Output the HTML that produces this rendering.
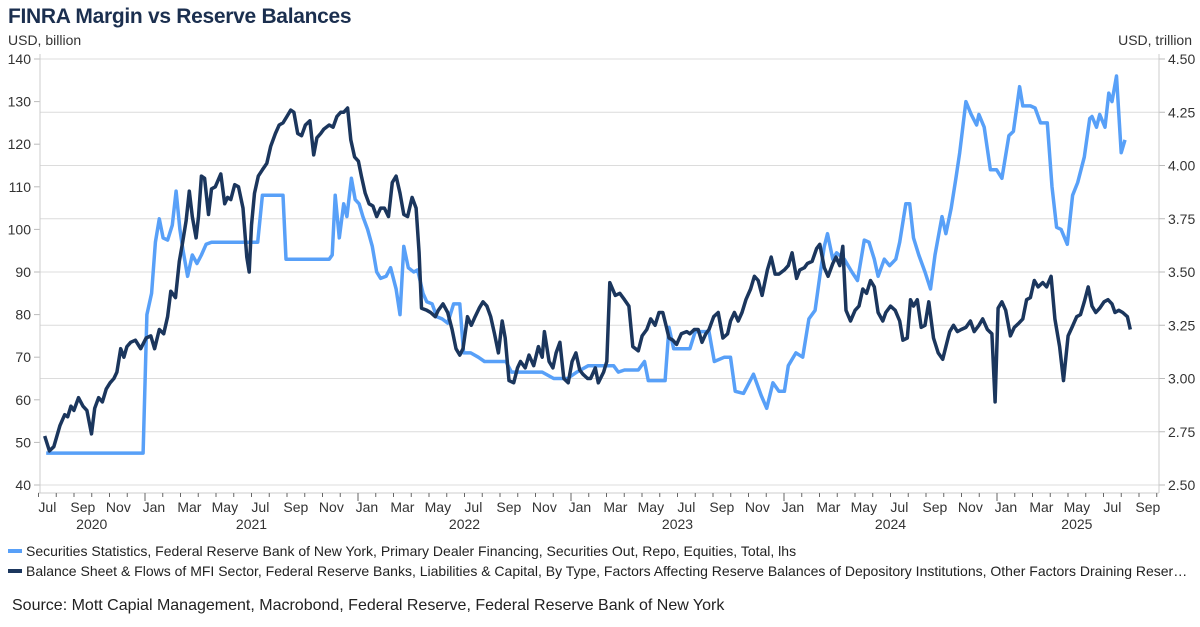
<!DOCTYPE html>
<html><head><meta charset="utf-8"><style>
body{margin:0;background:#fff;font-family:"Liberation Sans",Arial,sans-serif;}
#wrap{position:relative;width:1200px;height:627px;overflow:hidden;}
.title{position:absolute;left:8px;top:5px;font-size:21px;font-weight:bold;color:#1b2f4f;letter-spacing:-0.3px}
.leg{position:absolute;left:8px;width:1182px;font-size:14px;color:#222;white-space:nowrap;overflow:hidden;text-overflow:ellipsis}
.sw{display:inline-block;width:14px;height:4px;vertical-align:middle;margin-right:4px;position:relative;top:-1px}
.src{position:absolute;left:12px;top:597px;font-size:16px;color:#222}
</style></head><body>
<div id="wrap">
<div class="title">FINRA Margin vs Reserve Balances</div>
<svg id="svg" width="1200" height="627" style="position:absolute;left:0;top:0"></svg>
<div class="leg" style="top:543px"><span class="sw" style="background:#58a0f8"></span>Securities Statistics, Federal Reserve Bank of New York, Primary Dealer Financing, Securities Out, Repo, Equities, Total, lhs</div>
<div class="leg" style="top:563px"><span class="sw" style="background:#1b365d"></span>Balance Sheet &amp; Flows of MFI Sector, Federal Reserve Banks, Liabilities &amp; Capital, By Type, Factors Affecting Reserve Balances of Depository Institutions, Other Factors Draining Reserve Balances, Total, rhs</div>
<div class="src">Source: Mott Capial Management, Macrobond, Federal Reserve, Federal Reserve Bank of New York</div>
</div>
<script>
const leftTicks=[140,130,120,110,100,90,80,70,60,50,40];
const rightTicks=["4.50","4.25","4.00","3.75","3.50","3.25","3.00","2.75","2.50"];
const monthLabels=["Jul","Sep","Nov","Jan","Mar","May","Jul","Sep","Nov","Jan","Mar","May","Jul","Sep","Nov","Jan","Mar","May","Jul","Sep","Nov","Jan","Mar","May","Jul","Sep","Nov","Jan","Mar","May","Jul","Sep"];
const yearLabels=["2020","2021","2022","2023","2024","2025"];
const marginDates=[2020.536,2020.991,2021.009,2021.031,2021.049,2021.067,2021.085,2021.106,2021.128,2021.146,2021.164,2021.179,2021.200,2021.222,2021.244,2021.265,2021.287,2021.312,2021.529,2021.551,2021.648,2021.662,2021.865,2021.879,2021.893,2021.912,2021.933,2021.948,2021.969,2021.987,2022.005,2022.023,2022.045,2022.067,2022.088,2022.106,2022.132,2022.153,2022.179,2022.197,2022.215,2022.236,2022.262,2022.280,2022.305,2022.323,2022.348,2022.370,2022.395,2022.421,2022.449,2022.478,2022.496,2022.529,2022.565,2022.594,2022.695,2022.720,2022.865,2022.919,2022.984,2023.027,2023.081,2023.200,2023.222,2023.251,2023.316,2023.345,2023.363,2023.442,2023.460,2023.482,2023.558,2023.583,2023.648,2023.673,2023.720,2023.749,2023.771,2023.810,2023.857,2023.893,2023.919,2023.948,2023.976,2024.002,2024.020,2024.056,2024.088,2024.117,2024.146,2024.171,2024.189,2024.204,2024.229,2024.247,2024.283,2024.319,2024.345,2024.377,2024.399,2024.424,2024.442,2024.471,2024.496,2024.525,2024.543,2024.572,2024.590,2024.608,2024.633,2024.662,2024.688,2024.709,2024.742,2024.760,2024.785,2024.807,2024.825,2024.854,2024.879,2024.904,2024.915,2024.940,2024.969,2024.998,2025.023,2025.056,2025.077,2025.106,2025.121,2025.157,2025.179,2025.204,2025.236,2025.258,2025.280,2025.301,2025.330,2025.355,2025.379,2025.410,2025.435,2025.446,2025.467,2025.482,2025.507,2025.525,2025.540,2025.561,2025.583,2025.601];
const marginValues=[47.5,47.5,80,85,97,102.5,98,97.5,101,109,100,95,89,94,92,94,96.5,97,97,108,108,93,93,94,108,98,106,103,112,107,106,103,100,96,90,88.5,89,91,86,80,96,91,90,90.5,85,83,82.5,79.5,79,78,82.5,82.5,71,71,70,69,69,66.5,66.5,65,65,66.5,68,68,66.5,67,67,69,64.5,64.5,77,72,72,76,76,69,70,70,62,61.5,66,61,58,64,62,62,68,71,70,79,81,90,96,99,93,94.5,93,90,88,97.5,97,93,89,93,91.5,93,97,106,106,98,94,90,86,94,103,99,105,112,118,130,127,124.5,127,124,114,114,112,122,123,133.5,129,129,128.5,125,125,110,100.5,100,96.5,108,111,117,126,126.5,124,127,124,132,130,136,118,121];
const reserveDates=[2020.529,2020.551,2020.572,2020.601,2020.623,2020.637,2020.652,2020.666,2020.688,2020.709,2020.727,2020.749,2020.764,2020.782,2020.800,2020.818,2020.836,2020.854,2020.868,2020.886,2020.901,2020.915,2020.933,2020.955,2020.980,2021.005,2021.027,2021.045,2021.067,2021.088,2021.106,2021.121,2021.143,2021.161,2021.175,2021.193,2021.208,2021.222,2021.240,2021.251,2021.265,2021.280,2021.298,2021.312,2021.330,2021.356,2021.374,2021.388,2021.403,2021.421,2021.439,2021.460,2021.478,2021.489,2021.500,2021.514,2021.532,2021.551,2021.572,2021.590,2021.612,2021.630,2021.648,2021.666,2021.684,2021.699,2021.717,2021.735,2021.753,2021.774,2021.792,2021.807,2021.825,2021.839,2021.865,2021.883,2021.901,2021.919,2021.933,2021.951,2021.966,2021.984,2022.002,2022.016,2022.034,2022.052,2022.070,2022.088,2022.106,2022.124,2022.143,2022.161,2022.179,2022.197,2022.215,2022.233,2022.254,2022.273,2022.287,2022.298,2022.323,2022.341,2022.363,2022.377,2022.399,2022.421,2022.442,2022.460,2022.478,2022.493,2022.514,2022.532,2022.550,2022.569,2022.587,2022.605,2022.623,2022.641,2022.659,2022.677,2022.691,2022.709,2022.731,2022.749,2022.763,2022.785,2022.803,2022.825,2022.847,2022.865,2022.875,2022.897,2022.915,2022.930,2022.948,2022.966,2022.987,2023.005,2023.023,2023.041,2023.056,2023.078,2023.092,2023.114,2023.128,2023.153,2023.168,2023.182,2023.208,2023.229,2023.251,2023.272,2023.290,2023.316,2023.334,2023.356,2023.374,2023.395,2023.413,2023.431,2023.446,2023.460,2023.478,2023.496,2023.518,2023.543,2023.558,2023.579,2023.597,2023.615,2023.633,2023.648,2023.670,2023.691,2023.713,2023.735,2023.749,2023.767,2023.785,2023.803,2023.821,2023.843,2023.861,2023.879,2023.897,2023.922,2023.940,2023.958,2023.976,2024.002,2024.020,2024.038,2024.059,2024.074,2024.096,2024.110,2024.132,2024.153,2024.168,2024.189,2024.207,2024.229,2024.244,2024.262,2024.276,2024.291,2024.312,2024.334,2024.352,2024.370,2024.388,2024.406,2024.424,2024.442,2024.464,2024.478,2024.500,2024.522,2024.543,2024.558,2024.579,2024.594,2024.608,2024.626,2024.644,2024.662,2024.680,2024.702,2024.724,2024.745,2024.760,2024.778,2024.796,2024.814,2024.832,2024.854,2024.875,2024.893,2024.915,2024.933,2024.955,2024.976,2024.991,2025.005,2025.023,2025.041,2025.063,2025.081,2025.103,2025.121,2025.139,2025.157,2025.175,2025.193,2025.215,2025.233,2025.254,2025.272,2025.294,2025.312,2025.334,2025.352,2025.374,2025.392,2025.410,2025.428,2025.446,2025.464,2025.482,2025.503,2025.521,2025.540,2025.554,2025.572,2025.590,2025.612,2025.626];
const reserveValues=[2.73,2.66,2.68,2.78,2.83,2.82,2.87,2.85,2.91,2.87,2.85,2.74,2.86,2.91,2.89,2.95,2.98,3.00,3.03,3.14,3.10,3.15,3.17,3.18,3.14,3.19,3.20,3.14,3.23,3.21,3.29,3.41,3.38,3.55,3.63,3.74,3.88,3.76,3.66,3.76,3.95,3.94,3.77,3.89,3.90,3.96,3.82,3.85,3.84,3.91,3.90,3.80,3.57,3.50,3.72,3.87,3.95,3.98,4.01,4.09,4.15,4.19,4.20,4.23,4.26,4.25,4.15,4.14,4.19,4.21,4.05,4.13,4.15,4.17,4.19,4.18,4.23,4.25,4.25,4.27,4.12,4.04,4.02,3.95,3.87,3.82,3.81,3.76,3.80,3.80,3.76,3.92,3.95,3.87,3.77,3.76,3.85,3.80,3.59,3.33,3.32,3.31,3.29,3.32,3.35,3.31,3.23,3.14,3.11,3.14,3.29,3.25,3.29,3.33,3.36,3.34,3.29,3.21,3.12,3.27,3.19,2.99,2.98,3.05,3.08,3.05,3.11,3.06,3.15,3.10,3.22,3.08,3.05,3.12,3.17,3.00,2.98,3.08,3.12,3.04,3.02,3.00,3.00,3.05,2.98,3.03,3.08,3.45,3.39,3.40,3.37,3.34,3.15,3.13,3.20,3.23,3.28,3.25,3.31,3.31,3.25,3.19,3.18,3.16,3.21,3.22,3.21,3.23,3.23,3.17,3.21,3.23,3.29,3.31,3.19,3.21,3.27,3.31,3.27,3.31,3.37,3.42,3.48,3.46,3.39,3.51,3.57,3.49,3.49,3.51,3.53,3.59,3.47,3.51,3.52,3.54,3.55,3.61,3.63,3.52,3.48,3.54,3.57,3.53,3.62,3.32,3.27,3.32,3.34,3.42,3.40,3.46,3.43,3.31,3.27,3.31,3.34,3.32,3.27,3.18,3.19,3.37,3.34,3.37,3.24,3.25,3.36,3.19,3.12,3.09,3.15,3.22,3.25,3.22,3.23,3.24,3.27,3.22,3.25,3.28,3.23,3.21,2.89,3.33,3.36,3.32,3.20,3.24,3.26,3.28,3.37,3.38,3.46,3.43,3.45,3.43,3.48,3.28,3.15,2.99,3.20,3.24,3.29,3.30,3.36,3.43,3.34,3.31,3.33,3.36,3.37,3.35,3.31,3.32,3.31,3.29,3.23];

const NS="http://www.w3.org/2000/svg";
const svg=document.getElementById('svg');
const X0=38.5,PX_YR=213,YT=59,YB=485,AXL=40,AXR=1159;
const xS=d=>X0+(d-2020.5)*PX_YR;
const yL=v=>YT+(140-v)*(YB-YT)/100;
const yR=v=>YT+(4.5-v)*(YB-YT)/2;
function mk(t,a){const e=document.createElementNS(NS,t);for(const k in a)e.setAttribute(k,a[k]);svg.appendChild(e);return e;}
rightTicks.forEach(t=>{const v=parseFloat(t),y=yR(v);
 const g=mk('line',{x1:AXL,x2:AXR,y1:y,y2:y,stroke:'#dcdcdc','stroke-width':1});
 
 
 mk('line',{x1:AXR,x2:AXR+6,y1:y,y2:y,stroke:'#bbb'});
 const tx=mk('text',{x:AXR+9,y:y+5,'font-size':14,fill:'#333','font-family':'Liberation Sans, sans-serif'});tx.textContent=t;
 
 
});
leftTicks.forEach(v=>{const y=yL(v);
 mk('line',{x1:AXL-6,x2:AXL,y1:y,y2:y,stroke:'#bbb'});
 const tx=mk('text',{x:AXL-9,y:y+5,'font-size':14,fill:'#333','text-anchor':'end','font-family':'Liberation Sans, sans-serif'});tx.textContent=v;
 
 
});
mk('line',{x1:AXL,x2:AXL,y1:YT-5,y2:YB+8,stroke:'#ccc'});
mk('line',{x1:AXR,x2:AXR,y1:YT-5,y2:YB+8,stroke:'#ccc'});
mk('line',{x1:AXL-2,x2:AXR,y1:YB+8,y2:YB+8,stroke:'#ccc'});
for(let m=0;m<=63;m++){const d=2020.5+m/12,x=xS(d);const jan=(m%12)==6;
 mk('line',{x1:x,x2:x,y1:YB+8,y2:YB+(jan?16:12),stroke:'#666'});}
monthLabels.forEach((l,i)=>{const d=2020.5+(2*i+0.5)/12;
 const t=mk('text',{x:xS(d),y:512,'font-size':14,fill:'#333','text-anchor':'middle','font-family':'Liberation Sans, sans-serif'});t.textContent=l;
 
 });
yearLabels.forEach((l,i)=>{const yr=2020+i;const a=Math.max(yr,2020.5),b=Math.min(yr+1,2025.75);
 const t=mk('text',{x:xS((a+b)/2),y:529,'font-size':14,fill:'#333','text-anchor':'middle','font-family':'Liberation Sans, sans-serif'});t.textContent=l;
 
 });
const lt=mk('text',{x:8,y:45,'font-size':14,fill:'#333','font-family':'Liberation Sans, sans-serif'});lt.textContent='USD, billion';


const rt=mk('text',{x:1192,y:45,'font-size':14,fill:'#333','text-anchor':'end','font-family':'Liberation Sans, sans-serif'});rt.textContent='USD, trillion';


const p1=mk('path',{d:marginDates.map((d,i)=>(i?'L':'M')+xS(d).toFixed(1)+','+yL(marginValues[i]).toFixed(1)).join(''),fill:'none',stroke:'#58a0f8','stroke-width':3.5,'stroke-linejoin':'round'});


const p2=mk('path',{d:reserveDates.map((d,i)=>(i?'L':'M')+xS(d).toFixed(1)+','+yR(reserveValues[i]).toFixed(1)).join(''),fill:'none',stroke:'#1b365d','stroke-width':3.5,'stroke-linejoin':'round'});


</script>
</body></html>
